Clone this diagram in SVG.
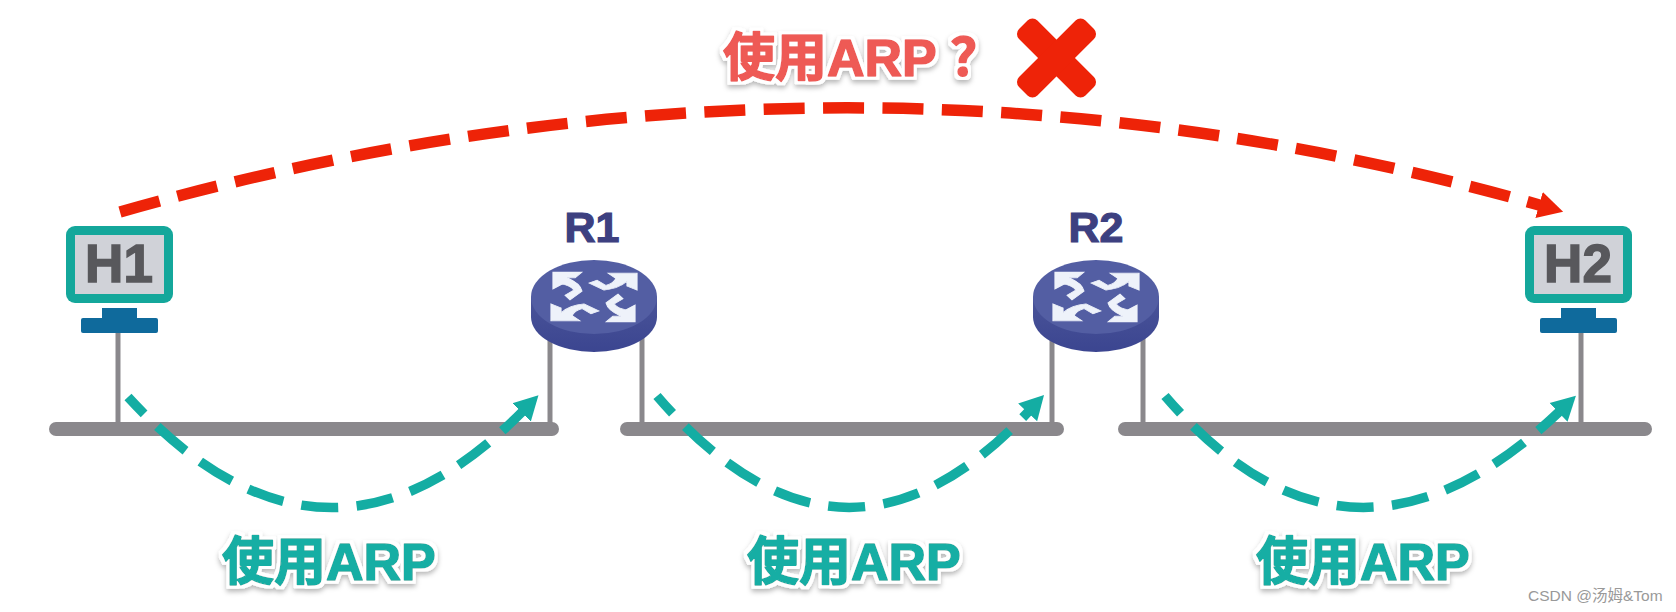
<svg xmlns="http://www.w3.org/2000/svg" xmlns:xlink="http://www.w3.org/1999/xlink" width="1676" height="612" viewBox="0 0 1676 612">
<style>
.wire{stroke:#8a888c;stroke-width:5;fill:none}
.bus{stroke:#8a888c;stroke-width:14;stroke-linecap:round;fill:none}
.teal{stroke:#14ada3;stroke-width:9.5;fill:none;stroke-dasharray:37 18.5;stroke-dashoffset:14;marker-end:url(#ta)}
.red{stroke:#ee2308;stroke-width:11.5;fill:none;stroke-dasharray:41 18.4;marker-end:url(#ra)}
.frame{fill:#14a79b}
.screen{fill:#d0d2d8}
.base{fill:#0f6a9c}
.hn{font:bold 53px "Liberation Sans",sans-serif;fill:#58585c;stroke:#58585c;stroke-width:1.5;text-anchor:middle}
.rn{font:bold 43px "Liberation Sans",sans-serif;fill:#3d4080;stroke:#3d4080;stroke-width:1.2;text-anchor:middle}
.lab{font-family:"Liberation Sans","Noto Sans CJK SC",sans-serif;font-weight:bold;font-size:52px;stroke-width:1.6px;stroke-linejoin:round;filter:url(#sh)}
.tl{fill:#16aea4;stroke:#16aea4}
.rl{fill:#ee5a55;stroke:#ee5a55;font-size:52px}
.ico{fill:#eef2fa;stroke:#eef2fa;stroke-width:1.2}
.wm{font:15.5px "Liberation Sans","Noto Sans CJK SC",sans-serif;fill:#999}
</style>
<defs>
<filter id="sh" x="-10%" y="-20%" width="120%" height="150%">
<feMorphology in="SourceAlpha" operator="dilate" radius="3" result="d"/>
<feGaussianBlur in="d" stdDeviation="2.5" result="b"/>
<feOffset in="b" dx="0" dy="3" result="o"/>
<feFlood flood-color="#000" flood-opacity=".28"/>
<feComposite in2="o" operator="in" result="s"/>
<feFlood flood-color="#fff"/>
<feComposite in2="d" operator="in" result="w"/>
<feMerge><feMergeNode in="s"/><feMergeNode in="w"/><feMergeNode in="SourceGraphic"/></feMerge>
</filter>
<marker id="ta" markerUnits="userSpaceOnUse" markerWidth="40" markerHeight="40" refX="2" refY="20" orient="auto"><path d="M0,7 L24,20 L0,33Z" fill="#14ada3"/></marker>
<marker id="ra" markerUnits="userSpaceOnUse" markerWidth="40" markerHeight="40" refX="2" refY="20" orient="auto"><path d="M0,6.500 L25,20 L0,33.500Z" fill="#ee2308"/></marker>
<linearGradient id="side" x1="0" x2="0" y1="0" y2="1"><stop offset="0" stop-color="#4a5499"/><stop offset="1" stop-color="#3b4590"/></linearGradient>
<path id="ar" d="M-41,-43 L-12,-43 L-19,-33 L-27,-33 Q-14,-24 -12,-10 L-24,5 L-29,-3 L-20,-12 Q-24,-20 -32,-22 L-41,-14Z"/>
<g id="routerIcon">
<path d="M-63,0 V20 A63,35 0 0 0 63,20 V0Z" fill="url(#side)"/>
<ellipse cx="0" cy="0" rx="63" ry="37" fill="#535ea3"/>
<g class="ico">
<use xlink:href="#ar" transform="scale(1,.58)"/>
<use xlink:href="#ar" transform="scale(1,.58) rotate(90)"/>
<use xlink:href="#ar" transform="scale(1,.58) rotate(180)"/>
<use xlink:href="#ar" transform="scale(1,.58) rotate(270)"/>
</g>
</g>
<g id="hostIcon">
<rect x="0" y="0" width="107" height="77" rx="9" class="frame"/>
<rect x="9" y="9" width="89" height="59" class="screen"/>
<rect x="36" y="82" width="35" height="12" class="base"/>
<rect x="15" y="92" width="77" height="15" rx="2" class="base"/>
</g>
</defs>
<rect width="1676" height="612" fill="#fff"/>
<g id="connectors">
<path class="bus" d="M56,429H552"/>
<path class="bus" d="M627,429H1057"/>
<path class="bus" d="M1125,429H1645"/>
<path class="wire" d="M118,333V424"/>
<path class="wire" d="M550,338V424"/>
<path class="wire" d="M642,333V424"/>
<path class="wire" d="M1052,338V424"/>
<path class="wire" d="M1143,333V424"/>
<path class="wire" d="M1581,333V424"/>
<path class="teal" d="M128,397Q325,611 523,411"/>
<path class="teal" d="M657,396Q842,611 1029,411"/>
<path class="teal" d="M1165,396Q1350,611 1560,411"/>
<path class="red" d="M120,212Q841,7 1541,205.500"/>
</g>
<g id="H1"><use xlink:href="#hostIcon" x="66" y="226"/><text class="hn" x="119" y="282">H1</text></g>
<g id="H2"><use xlink:href="#hostIcon" x="1525" y="226"/><text class="hn" x="1578" y="282">H2</text></g>
<g id="R1"><use xlink:href="#routerIcon" transform="translate(594,297)"/><text class="rn" x="592" y="242">R1</text></g>
<g id="R2"><use xlink:href="#routerIcon" transform="translate(1096,297)"/><text class="rn" x="1096" y="242">R2</text></g>
<g id="labels">
<text class="lab tl" x="222" y="580">使用ARP</text>
<text class="lab tl" x="747" y="580">使用ARP</text>
<text class="lab tl" x="1256" y="580">使用ARP</text>
<text class="lab rl" x="723" y="76">使用ARP ？</text>
<g id="cross" fill="#ee2308" transform="translate(1056.500,58) rotate(45)">
<rect x="-47" y="-13" width="94" height="26" rx="7"/>
<rect x="-13" y="-47" width="26" height="94" rx="7"/>
</g>
<text class="wm" x="1528" y="601">CSDN @汤姆&amp;Tom</text>
</g>
</svg>
